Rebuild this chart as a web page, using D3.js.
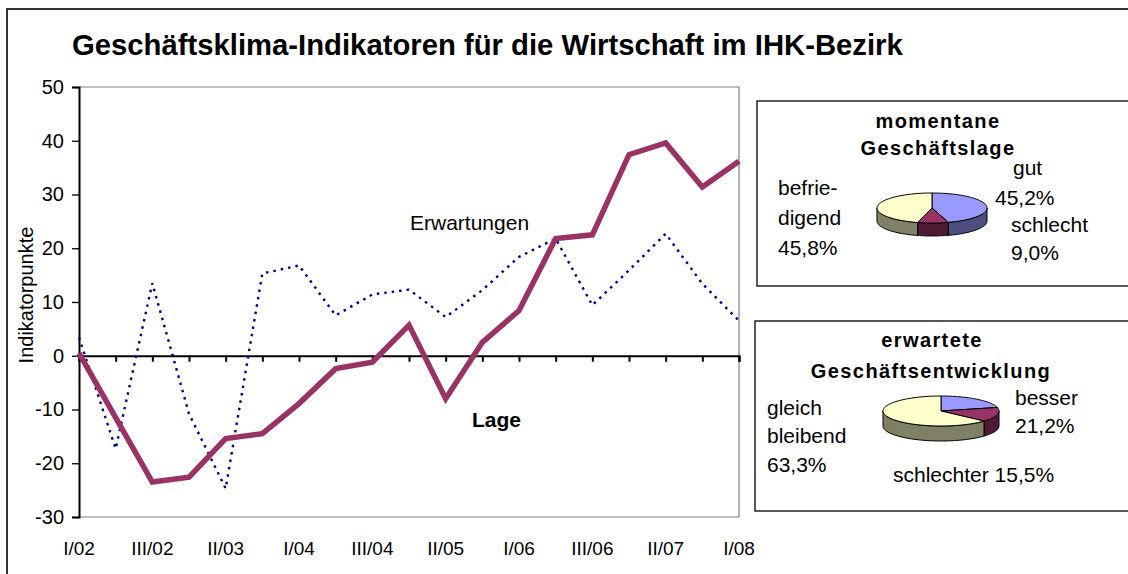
<!DOCTYPE html>
<html><head><meta charset="utf-8">
<script src="https://cdn.jsdelivr.net/npm/d3@7"></script>
<style>body{margin:0;background:#fff}svg{display:block}text{font-family:"Liberation Sans",Arial,sans-serif;fill:#000}</style>
</head><body><svg id="c" width="1128" height="574"></svg>
<script>
const categories = ["I/02","II/02","III/02","I/03","II/03","III/03","I/04","II/04","III/04","I/05","II/05","III/05","I/06","II/06","III/06","I/07","II/07","III/07","I/08"];
const lage = [0.5,-11.5,-23.5,-22.6,-15.4,-14.5,-8.9,-2.4,-1.2,5.7,-8.0,2.5,8.4,21.8,22.5,37.4,39.6,31.4,36.2];
const erwartungen = [3.4,-17.3,13.5,-10.8,-24.7,15.3,16.8,7.5,11.4,12.3,7.2,12.2,18.4,21.8,9.4,15.9,22.7,13.4,6.5];
const yTicks = [50,40,30,20,10,0,-10,-20,-30];
const xTickLabels = ["I/02","III/02","II/03","I/04","III/04","II/05","I/06","III/06","II/07","I/08"];
const pie1Labels = ["gut","schlecht","befriedigend"];
const pie1Values = [45.2,9.0,45.8];
const pie2Labels = ["besser","schlechter","gleich bleibend"];
const pie2Values = [21.2,15.5,63.3];
const titleText = "Geschäftsklima-Indikatoren für die Wirtschaft im IHK-Bezirk";

const svg = d3.select("#c");
svg.append("rect").attr("x",7).attr("y",9).attr("width",1140).attr("height",600)
  .attr("fill","none").attr("stroke","#333").attr("stroke-width",2);

const title = svg.append("text").attr("x",72).attr("y",55).attr("font-weight","bold").attr("font-size",24).text(titleText);
const tw = title.node().getComputedTextLength();
title.attr("font-size", 24*831/tw);

const L=79,R=739,T=87,B=517;
const x = d3.scalePoint().domain(categories).range([L,R]);
const y = d3.scaleLinear().domain([-30,50]).range([B,T]);

svg.append("path").attr("d",`M${L},${T}H${R}V${B}H${L}`).attr("fill","none").attr("stroke","#808080").attr("stroke-width",1.2);

const ya = svg.append("g").attr("transform",`translate(${L},0)`)
  .call(d3.axisLeft(y).tickValues(yTicks).tickSize(7).tickPadding(8).tickFormat(d=>String(d)));
ya.select(".domain").attr("stroke","#000").attr("stroke-width",2);
ya.selectAll(".tick line").attr("stroke","#000").attr("stroke-width",1.3);
ya.selectAll("text").attr("font-family","Liberation Sans").attr("font-size",20).attr("fill","#000");

const xa = svg.append("g").attr("transform",`translate(0,${y(0)})`)
  .call(d3.axisBottom(x).tickSize(6).tickFormat(""));
xa.select(".domain").attr("stroke","#000").attr("stroke-width",2.2);
xa.selectAll(".tick line").attr("stroke","#000").attr("stroke-width",2);

svg.append("g").selectAll("text").data(xTickLabels).join("text")
  .attr("x",d=>x(d)).attr("y",555).attr("text-anchor","middle").attr("font-size",19).text(d=>d);

svg.append("text").attr("transform","translate(33,295) rotate(-90)").attr("text-anchor","middle")
  .attr("font-size",20).text("Indikatorpunkte");

const line = d3.line().x((d,i)=>x(categories[i])).y(d=>y(d));
svg.append("path").datum(erwartungen).attr("d",line).attr("fill","none")
  .attr("stroke","#000080").attr("stroke-width",2.4).attr("stroke-dasharray","2.5,5");
svg.append("path").datum(lage).attr("d",line).attr("fill","none")
  .attr("stroke","#993366").attr("stroke-width",5.5).attr("stroke-linejoin","miter");

svg.append("text").attr("x",410).attr("y",230).attr("font-size",21).text("Erwartungen");
svg.append("text").attr("x",472).attr("y",427).attr("font-size",21).attr("font-weight","bold").text("Lage");

svg.append("rect").attr("x",757).attr("y",101).attr("width",400).attr("height",185).attr("fill","#fff").attr("stroke","#222").attr("stroke-width",1.5);
svg.append("rect").attr("x",755).attr("y",321).attr("width",400).attr("height",190).attr("fill","#fff").attr("stroke","#222").attr("stroke-width",1.5);

function pie3d(values, cx, cy, rx, ry, depth, tops, sides){
  const arcs = d3.pie().sort(null).startAngle(0).endAngle(2*Math.PI)(values);
  const g = svg.append("g");
  const pt=(a,dy=0)=>[cx+rx*Math.sin(a), cy-ry*Math.cos(a)+dy];
  arcs.forEach((a,i)=>{
    const a0=Math.max(a.startAngle,Math.PI/2), a1=Math.min(a.endAngle,3*Math.PI/2);
    if(a1<=a0) return;
    const n=40, p=[];
    for(let k=0;k<=n;k++) p.push(pt(a0+(a1-a0)*k/n));
    for(let k=n;k>=0;k--) p.push(pt(a0+(a1-a0)*k/n,depth));
    g.append("path").attr("d","M"+p.join("L")+"Z").attr("fill",sides[i]).attr("stroke","#000").attr("stroke-width",1);
  });
  arcs.forEach((a,i)=>{
    const n=60,p=[[cx,cy]];
    for(let k=0;k<=n;k++) p.push(pt(a.startAngle+(a.endAngle-a.startAngle)*k/n));
    g.append("path").attr("d","M"+p.join("L")+"Z").attr("fill",tops[i]).attr("stroke","#000").attr("stroke-width",1);
  });
}
pie3d(pie1Values, 932, 208, 55, 15, 13, ["#9999ff","#993366","#ffffcc"], ["#4d4d80","#4d1a33","#808066"]);
pie3d(pie2Values, 941, 411, 58, 15, 15, ["#9999ff","#993366","#ffffcc"], ["#4d4d80","#4d1a33","#808066"]);

function txt(s,xx,yy,opt={}){
  const t=svg.append("text").attr("x",xx).attr("y",yy).attr("font-size",opt.size||21).text(s);
  if(opt.bold){t.attr("font-weight","bold").attr("letter-spacing",opt.ls||1.4);}
  if(opt.anchor) t.attr("text-anchor",opt.anchor);
  return t;
}
txt("momentane",938,128,{bold:true,anchor:"middle",size:20});
txt("Geschäftslage",938,155,{bold:true,anchor:"middle",size:20});
txt("gut",1013,175);
txt("45,2%",995,205);
txt("schlecht",1011,232);
txt("9,0%",1011,260);
txt("befrie-",778,195);
txt("digend",778,225);
txt("45,8%",778,255);

txt("erwartete",932,347,{bold:true,anchor:"middle",size:20});
txt("Geschäftsentwicklung",931,378,{bold:true,anchor:"middle",size:20});
txt("gleich",767,415);
txt("bleibend",767,443);
txt("63,3%",767,472);
txt("besser",1015,405);
txt("21,2%",1015,433);
txt("schlechter 15,5%",893,482);
</script></body></html>
